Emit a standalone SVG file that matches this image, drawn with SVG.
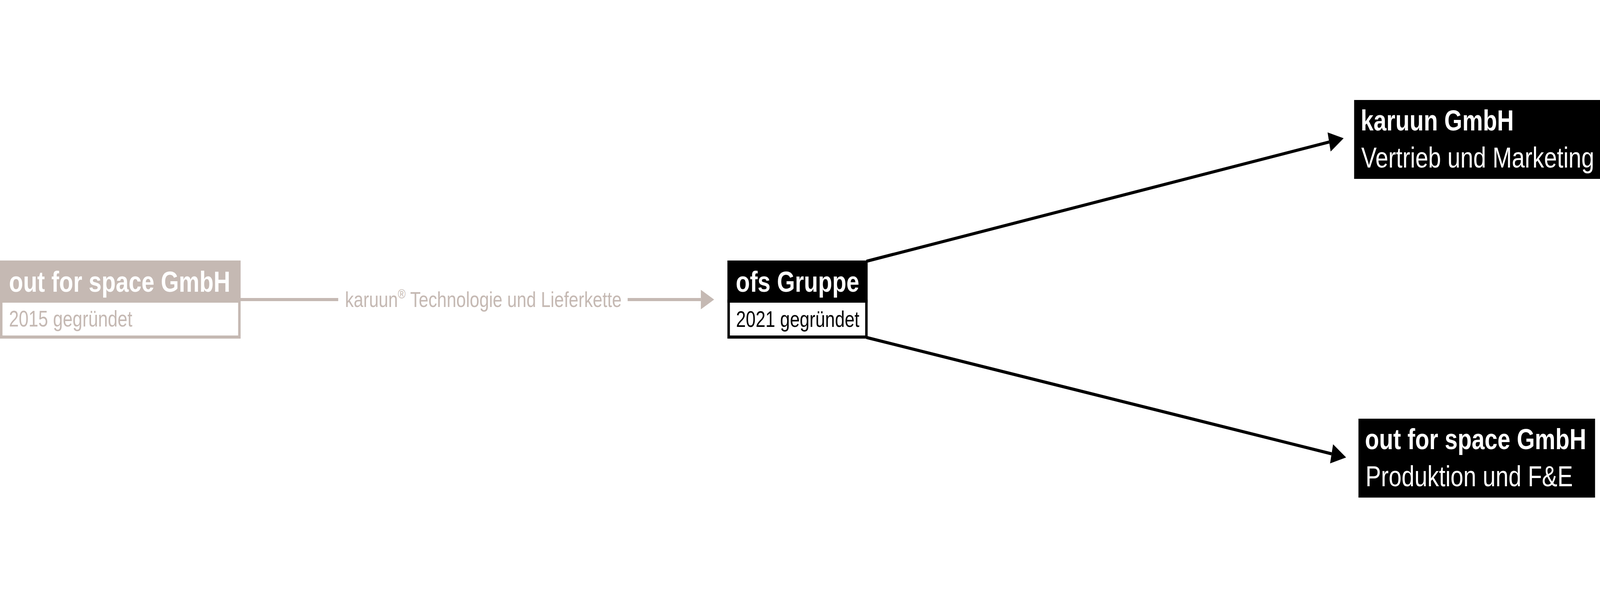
<svg xmlns="http://www.w3.org/2000/svg" width="5180" height="1526" viewBox="0 0 5180 1526" preserveAspectRatio="none">
<style>
svg{width:100vw;height:100vh;display:block}
.t{font-family:"Liberation Sans",Arial,sans-serif}
.h{font-weight:bold;font-size:75px;fill:#fff}
.s{font-size:57px}
.b{font-size:75px;fill:#fff}
.g{fill:#c5b9b3}
.gs{stroke:#c5b9b3}
.k{fill:#000}
.ks{stroke:#000}
.con{fill:none;stroke-width:8}
</style>
<defs>
<marker id="ag" markerUnits="userSpaceOnUse" markerWidth="44" markerHeight="50" refX="0" refY="25" orient="auto" overflow="visible">
<path d="M0,0 L43,25 L0,50 z" fill="#c5b9b3"/>
</marker>
<marker id="ak" markerUnits="userSpaceOnUse" markerWidth="48" markerHeight="50" refX="0" refY="25" orient="auto" overflow="visible">
<path d="M0,0 L48,25 L0,50 z" fill="#000"/>
</marker>
</defs>
<rect width="5180" height="1526" fill="#fff"/>
<g id="connectors">
<line class="con gs" x1="776" y1="767" x2="1095" y2="767"/>
<text class="t g" x="1117" y="786" font-size="56">karuun<tspan font-size="34" dy="-22">®</tspan><tspan dy="22"> Technologie und Lieferkette</tspan></text>
<line class="con gs" x1="2032" y1="767" x2="2269" y2="767" marker-end="url(#ag)"/>
<line class="con ks" x1="2805" y1="669" x2="4303" y2="363.6" marker-end="url(#ak)"/>
<line class="con ks" x1="2805" y1="864" x2="4311" y2="1162" marker-end="url(#ak)"/>
</g>
<g id="node-ofs-2015">
<rect class="g" x="0" y="667" width="779" height="108"/>
<rect x="4" y="771" width="771" height="92" fill="#fff" stroke="#c5b9b3" stroke-width="8"/>
<text class="t h" x="29" y="747">out for space GmbH</text>
<text class="t s g" x="29" y="836">2015 gegründet</text>
</g>
<g id="node-ofs-gruppe">
<rect class="k" x="2355" y="667" width="454" height="108"/>
<rect x="2359" y="771" width="446" height="92" fill="#fff" stroke="#000" stroke-width="8"/>
<text class="t h" x="2382" y="747">ofs Gruppe</text>
<text class="t s k" x="2383" y="837">2021 gegründet</text>
</g>
<g id="node-karuun">
<rect class="k" x="4384" y="256" width="796" height="202"/>
<text class="t h" x="4405" y="334">karuun GmbH</text>
<text class="t b" x="4407" y="429">Vertrieb und Marketing</text>
</g>
<g id="node-ofs-produktion">
<rect class="k" x="4398" y="1072" width="766" height="202"/>
<text class="t h" x="4419" y="1150">out for space GmbH</text>
<text class="t b" x="4421" y="1245">Produktion und F&amp;E</text>
</g>
</svg>
